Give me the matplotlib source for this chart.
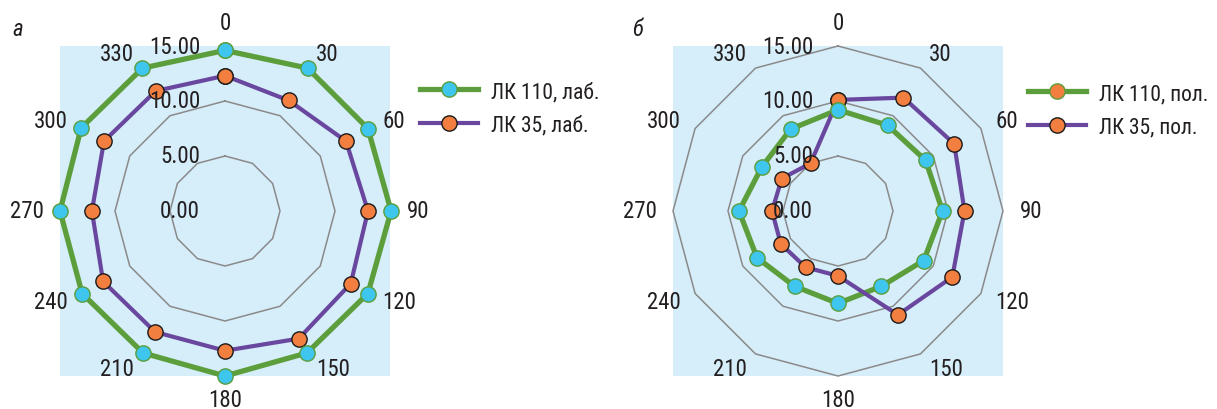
import numpy as np
import matplotlib
matplotlib.use("Agg")
import matplotlib.pyplot as plt
from matplotlib.lines import Line2D
from matplotlib.patches import Rectangle
from matplotlib.transforms import offset_copy

plt.rcParams["font.family"] = ["Roboto Condensed", "DejaVu Sans"]

# углы (град.) и подписи
angles = [0, 30, 60, 90, 120, 150, 180, 210, 240, 270, 300, 330]
angle_labels = [str(a) for a in angles]
r_ticks = [0, 5, 10, 15]

# а — лабораторные значения
lk110_lab = [14.6, 15.0, 15.0, 15.1, 15.0, 14.9, 15.0, 14.9, 15.0, 15.0, 15.1, 15.0]
lk35_lab = [12.3, 11.6, 12.7, 13.0, 13.2, 13.4, 12.7, 12.7, 12.8, 12.1, 12.7, 12.6]

# б — полевые значения
lk110_pol = [9.2, 9.0, 9.2, 9.5, 9.0, 7.9, 8.4, 7.9, 8.5, 9.0, 8.0, 8.6]
lk35_pol = [10.1, 11.9, 12.2, 11.5, 12.0, 10.9, 5.9, 5.9, 6.0, 6.0, 5.9, 5.0]

GREEN = "#5c9e3b"
PURPLE = "#6a479e"
CYAN = "#3ec6ef"
ORANGE = "#f27f40"
BG = "#d6edfa"
GRID = "#8a8a8a"
TXT = "#231f20"
FS = 16.5

theta = np.deg2rad(angles + [angles[0]])


def closed(vals):
    return list(vals) + [vals[0]]


def radar(ax, rings, series):
    ax.set_theta_zero_location("N")
    ax.set_theta_direction(-1)
    ax.set_ylim(0, 15)
    ax.grid(False)
    ax.spines["polar"].set_visible(False)
    ax.patch.set_facecolor("none")
    ax.set_yticks([])
    ax.set_xticks([])
    ax.add_patch(Rectangle((0, 0), 1, 1, transform=ax.transAxes,
                           facecolor=BG, edgecolor="none", zorder=0, clip_on=False))

    # многоугольная сетка
    for lvl in rings:
        ax.plot(theta, [lvl] * len(theta), color=GRID, lw=1.1, zorder=1, clip_on=False)

    for vals, lc, lw, *_ in series:
        ax.plot(theta, closed(vals), color=lc, lw=lw, zorder=2, clip_on=False)
    for vals, lc, lw, mfc, mec in reversed(series):
        ax.plot(theta, closed(vals), ls="none", marker="o", ms=11,
                mfc=mfc, mec=mec, mew=1.0, zorder=3, clip_on=False)

    # подписи углов снаружи
    for a, lab in zip(angles, angle_labels):
        if a in (0, 180):
            ha, va, r = "center", ("bottom" if a == 0 else "top"), 16.1
        else:
            ha, va, r = ("left" if a < 180 else "right"), "center", 16.5
        ax.text(np.deg2rad(a), r, lab, ha=ha, va=va, fontsize=FS,
                color=TXT, clip_on=False)

    lab_tr = offset_copy(ax.transData, fig=ax.figure, x=-25, y=0, units="dots")
    for v in r_ticks:
        ax.text(0, v, f"{v:.2f}", transform=lab_tr, ha="right", va="center",
                fontsize=FS, color=TXT, zorder=5, clip_on=False)


fig = plt.figure(figsize=(12.17, 4.10), dpi=100)

ax_a = fig.add_axes([60 / 1217, 33 / 410, 330 / 1217, 330 / 410], projection="polar")
radar(ax_a, [5, 10], [
    (lk110_lab, GREEN, 3.8, CYAN, GREEN),
    (lk35_lab, PURPLE, 3.0, ORANGE, "#1a1a1a"),
])

ax_b = fig.add_axes([673 / 1217, 33 / 410, 330 / 1217, 330 / 410], projection="polar")
radar(ax_b, [5, 10, 15], [
    (lk110_pol, GREEN, 3.8, CYAN, GREEN),
    (lk35_pol, PURPLE, 3.0, ORANGE, "#1a1a1a"),
])

fig.text(12 / 1217, 1 - 30 / 410, "а", fontsize=FS, style="italic", va="center", color=TXT)
fig.text(632 / 1217, 1 - 29 / 410, "б", fontsize=FS, style="italic", va="center", color=TXT)


def legend_at(x, y, items):
    handles = [Line2D([], [], color=lc, lw=lw, marker="o", ms=11, mfc=mfc, mec=mec, mew=1.0)
               for _, lc, lw, mfc, mec in items]
    fig.legend(handles, [it[0] for it in items], loc="upper left",
               bbox_to_anchor=(x, y), frameon=False, fontsize=15.5,
               handlelength=2.7, handletextpad=0.6, labelspacing=0.6,
               borderpad=0, borderaxespad=0, labelcolor=TXT)


legend_at(420 / 1217, 1 - 82 / 410, [
    ("ЛК 110, лаб.", GREEN, 3.8, CYAN, GREEN),
    ("ЛК 35, лаб.", PURPLE, 3.0, ORANGE, "#1a1a1a"),
])
legend_at(1028 / 1217, 1 - 84 / 410, [
    ("ЛК 110, пол.", GREEN, 3.8, ORANGE, GREEN),
    ("ЛК 35, пол.", PURPLE, 3.0, ORANGE, "#1a1a1a"),
])

fig.savefig("out.png", dpi=100)
